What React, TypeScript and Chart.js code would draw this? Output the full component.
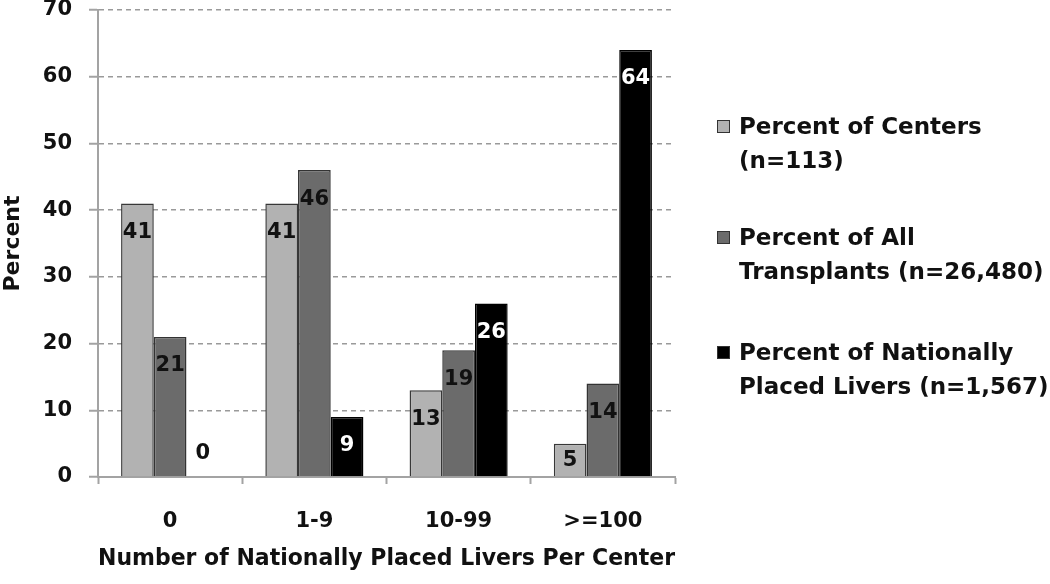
import React, { useEffect, useRef } from 'react';
import { Chart, registerables } from 'chart.js';

Chart.register(...registerables);

const categories = ['0', '1-9', '10-99', '>=100'];
const centersPct = [41, 41, 13, 5];
const transplantsPct = [21, 46, 19, 14];
const placedPct = [0, 9, 26, 64];
const legendCenters = ['Percent of Centers', '(n=113)'];
const legendTransplants = ['Percent of All', 'Transplants (n=26,480)'];
const legendPlaced = ['Percent of Nationally', 'Placed Livers (n=1,567)'];
const yTitle = 'Percent';
const xTitle = 'Number of Nationally Placed Livers Per Center';
const yMin = 0;
const yMax = 70;
const yStep = 10;

const FONT = "'DejaVu Sans', sans-serif";
const TEXT = '#111111';
const AXIS = '#a3a3a3';
const GRID = '#9a9a9a';

const legendLines = [legendCenters, legendTransplants, legendPlaced];

const dataLabelPlugin = {
  id: 'dataLabels',
  afterDatasetsDraw(chart: any) {
    const ctx = chart.ctx;
    ctx.save();
    ctx.font = `bold 21px ${FONT}`;
    ctx.textAlign = 'center';
    ctx.textBaseline = 'middle';
    chart.data.datasets.forEach((ds: any, di: number) => {
      const meta = chart.getDatasetMeta(di);
      meta.data.forEach((bar: any, i: number) => {
        const v = ds.data[i];
        const base = bar.base;
        const top = bar.y;
        const h = base - top;
        let y;
        let color = ds.labelColor;
        if (v === 0) {
          y = base - 24;
          color = TEXT;
        } else if (h >= 56) {
          y = top + 28;
        } else {
          y = top + h / 2;
        }
        ctx.fillStyle = color;
        ctx.fillText(String(v), bar.x, y + 1);
      });
    });
    ctx.restore();
  },
};

const sideLegendPlugin = {
  id: 'sideLegend',
  afterDraw(chart: any) {
    const ctx = chart.ctx;
    const firstLineY = [127, 238, 353];
    const lineGap = 34;
    ctx.save();
    chart.data.datasets.forEach((ds: any, di: number) => {
      const y0 = firstLineY[di];
      ctx.fillStyle = ds.backgroundColor;
      ctx.fillRect(717, y0 - 7, 13, 13);
      ctx.strokeStyle = '#333333';
      ctx.lineWidth = 1;
      ctx.strokeRect(717.5, y0 - 6.5, 12, 12);
      ctx.fillStyle = TEXT;
      ctx.font = `bold 23px ${FONT}`;
      ctx.textAlign = 'left';
      ctx.textBaseline = 'middle';
      legendLines[di].forEach((line, li) => {
        ctx.fillText(line, 739, y0 + li * lineGap + 1);
      });
    });
    ctx.restore();
  },
};

export default function App() {
  const canvasRef = useRef<HTMLCanvasElement | null>(null);

  useEffect(() => {
    document.body.style.margin = '0';
    const canvas = canvasRef.current;
    if (!canvas) return;
    const chart = new Chart(canvas, {
      type: 'bar',
      data: {
        labels: categories,
        datasets: [
          {
            label: legendCenters.join(' '),
            data: centersPct,
            backgroundColor: '#b2b2b2',
            borderColor: '#383838',
            borderWidth: 1.5,
            labelColor: TEXT,
          } as any,
          {
            label: legendTransplants.join(' '),
            data: transplantsPct,
            backgroundColor: '#6b6b6b',
            borderColor: '#333333',
            borderWidth: 1.5,
            labelColor: TEXT,
          } as any,
          {
            label: legendPlaced.join(' '),
            data: placedPct,
            backgroundColor: '#000000',
            borderColor: '#000000',
            borderWidth: 1.5,
            labelColor: '#ffffff',
          } as any,
        ],
      },
      options: {
        animation: false,
        responsive: true,
        maintainAspectRatio: false,
        datasets: {
          bar: {
            categoryPercentage: 0.68,
            barPercentage: 1.0,
          },
        },
        layout: {
          padding: { top: 10, right: 375, bottom: 0, left: 0 },
        },
        plugins: {
          legend: { display: false },
          tooltip: { enabled: false },
        },
        scales: {
          x: {
            grid: {
              display: true,
              drawOnChartArea: false,
              drawTicks: true,
              tickLength: 7,
              tickColor: AXIS,
              tickWidth: 2,
              color: AXIS,
            },
            border: { display: true, color: AXIS, width: 2 },
            ticks: {
              color: TEXT,
              padding: 25,
              font: { family: FONT, size: 21, weight: 'bold', lineHeight: 1.2 },
            },
            title: {
              display: true,
              text: xTitle,
              color: TEXT,
              padding: { top: 0, bottom: 11 },
              font: { family: FONT, size: 22.5, weight: 'bold', lineHeight: 1.2 },
            },
            afterFit(scale: any) {
              scale.height = 107;
              scale.paddingLeft = 0;
              scale.paddingRight = 0;
            },
          },
          y: {
            min: yMin,
            max: yMax,
            ticks: {
              stepSize: yStep,
              color: TEXT,
              padding: 17,
              font: { family: FONT, size: 21, weight: 'bold', lineHeight: 1 },
            },
            grid: {
              color: GRID,
              lineWidth: 1.5,
              drawTicks: true,
              tickLength: 9,
              tickColor: AXIS,
              tickWidth: 2,
              tickBorderDash: [],
            },
            border: { display: true, color: AXIS, width: 2, dash: [5, 4] },
            title: {
              display: true,
              text: yTitle,
              color: TEXT,
              padding: { top: 0, bottom: 0 },
              font: { family: FONT, size: 22, weight: 'bold', lineHeight: 1.2 },
            },
            afterFit(scale: any) {
              scale.width = 98;
              scale.paddingTop = 0;
              scale.paddingBottom = 0;
            },
          },
        },
      },
      plugins: [dataLabelPlugin, sideLegendPlugin],
    } as any);
    return () => {
      chart.destroy();
    };
  }, []);

  return (
    <div style={{ position: 'relative', width: 1050, height: 584 }}>
      <canvas ref={canvasRef} />
    </div>
  );
}
